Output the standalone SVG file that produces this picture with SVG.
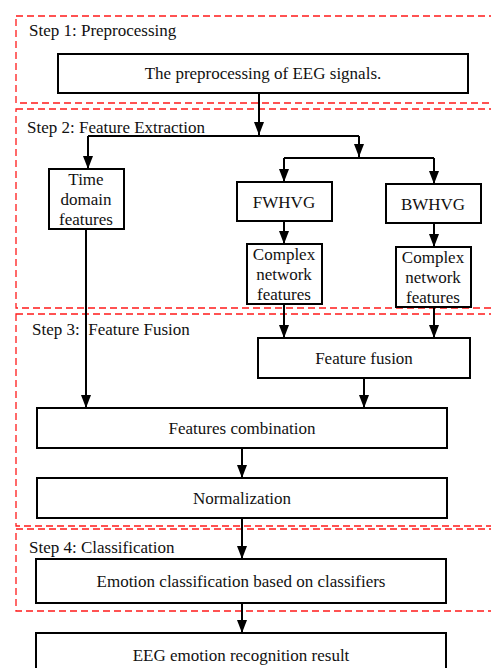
<svg xmlns="http://www.w3.org/2000/svg" width="491" height="668" viewBox="0 0 491 668">
<defs>
<marker id="ah" viewBox="0 0 13 10" refX="13" refY="5" markerWidth="13" markerHeight="10" markerUnits="userSpaceOnUse" orient="auto">
<path d="M0,0 L13,5 L0,10 z" fill="#000"/>
</marker>
<style>
.step{fill:none;stroke:#ff1a1a;stroke-width:1.3;stroke-dasharray:7,4}
.box rect{fill:#fff;stroke:#000;stroke-width:2}
text{font-family:"Liberation Serif","Times New Roman",serif;font-size:17px;fill:#111}
.lbl{font-size:17px}
.c{text-anchor:middle}
#connectors path{fill:none;stroke:#000;stroke-width:2;marker-end:url(#ah)}
#connectors line{stroke:#000;stroke-width:2}
</style>
</defs>
<rect width="491" height="668" fill="#fff"/>
<g id="steps" font-family="Liberation Serif, serif">
<rect class="step" x="16" y="16" width="490" height="87"/>
<rect class="step" x="16" y="109" width="490" height="199"/>
<rect class="step" x="16" y="314" width="490" height="212"/>
<rect class="step" x="16" y="529" width="490" height="82"/>
<text class="lbl" x="29" y="36">Step 1: Preprocessing</text>
<text class="lbl" x="27" y="133">Step 2: Feature Extraction</text>
<text class="lbl" x="32" y="335" xml:space="preserve">Step 3:  Feature Fusion</text>
<text class="lbl" x="29" y="553">Step 4: Classification</text>
</g>
<g id="connectors">
<path d="M259,93 V135"/>
<line x1="88" y1="136" x2="359" y2="136"/>
<path d="M88,136 V169"/>
<path d="M359,136 V157"/>
<line x1="284" y1="158" x2="434" y2="158"/>
<path d="M284,158 V182"/>
<path d="M434,158 V184"/>
<path d="M284,221 V244"/>
<path d="M434,223 V247"/>
<path d="M284,304 V338"/>
<path d="M434,307 V338"/>
<path d="M364,378 V408"/>
<path d="M86,229 V408"/>
<path d="M242,448 V478"/>
<path d="M242,518 V559"/>
<path d="M242,603 V633"/>
</g>
<g id="n1" class="box"><rect x="58" y="54" width="410" height="39"/><text class="c" x="263" y="79">The preprocessing of EEG signals.</text></g>
<g id="n2" class="box"><rect x="49" y="169" width="75" height="60"/><text class="c" x="86" y="185">Time</text><text class="c" x="86" y="205">domain</text><text class="c" x="86" y="225">features</text></g>
<g id="n3" class="box"><rect x="237" y="182" width="95" height="39"/><text class="c" x="284" y="208">FWHVG</text></g>
<g id="n4" class="box"><rect x="386" y="184" width="95" height="39"/><text class="c" x="433" y="210">BWHVG</text></g>
<g id="n5" class="box"><rect x="247" y="244" width="75" height="60"/><text class="c" x="284" y="260">Complex</text><text class="c" x="284" y="280">network</text><text class="c" x="284" y="300">features</text></g>
<g id="n6" class="box"><rect x="396" y="247" width="75" height="60"/><text class="c" x="433" y="263">Complex</text><text class="c" x="433" y="283">network</text><text class="c" x="433" y="303">features</text></g>
<g id="n7" class="box"><rect x="258" y="338" width="212" height="40"/><text class="c" x="364" y="364">Feature fusion</text></g>
<g id="n8" class="box"><rect x="37" y="408" width="410" height="40"/><text class="c" x="242" y="434">Features combination</text></g>
<g id="n9" class="box"><rect x="37" y="478" width="410" height="40"/><text class="c" x="242" y="504">Normalization</text></g>
<g id="n10" class="box"><rect x="36" y="559" width="410" height="44"/><text class="c" x="241" y="587">Emotion classification based on classifiers</text></g>
<g id="n11" class="box"><rect x="36" y="633" width="410" height="50"/><text class="c" x="241" y="661">EEG emotion recognition result</text></g>
</svg>
